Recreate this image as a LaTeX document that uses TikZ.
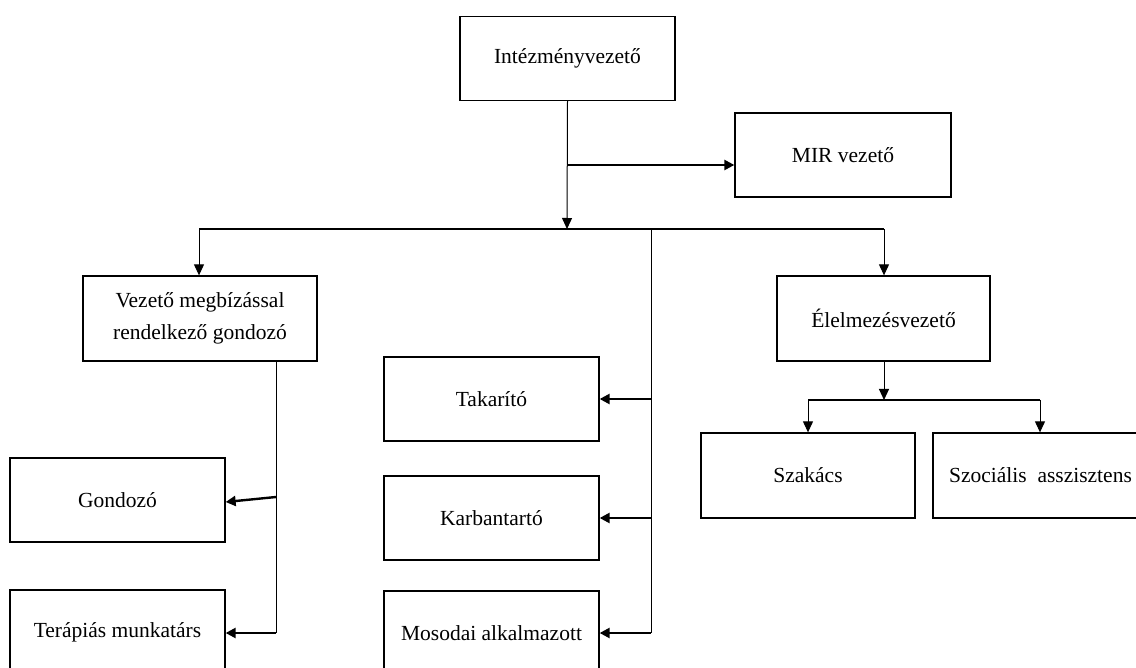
\documentclass[tikz,border=0pt]{standalone}
\usepackage{fontspec}
\setmainfont{Liberation Serif}
\usetikzlibrary{arrows.meta}
\begin{document}
\begin{tikzpicture}[x=1pt,y=-1pt,
  box/.style={draw=black,line width=1.3pt,minimum height=84pt,inner sep=0pt,align=center,
    font=\fontsize{21.5}{32}\selectfont},
  thin/.style={line width=1pt},
  thick arr/.style={line width=2.4pt,-{Triangle[length=10pt,width=10pt]}},
  thin arr/.style={line width=1pt,-{Triangle[length=11pt,width=10pt]}}]
\useasboundingbox (0,0) rectangle (1136,668);
\clip (0,0) rectangle (1136,668);
\node[box,minimum width=215pt] (top) at (567.5,58.5) {Intézményvezető};
\node[box,minimum width=216pt] (mir) at (843,155) {MIR vezető};
\node[box,minimum width=234pt,minimum height=85pt] (vez) at (200,318.5) {Vezető megbízással\\rendelkező gondozó};
\node[box,minimum width=213pt,minimum height=85pt] (elel) at (883.5,318.5) {Élelmezésvezető};
\node[box,minimum width=215pt] (tak) at (491.5,399) {Takarító};
\node[box,minimum width=215pt] (karb) at (491.5,518) {Karbantartó};
\node[box,minimum width=215pt,minimum height=85pt] (mos) at (491.5,633.5) {Mosodai alkalmazott};
\node[box,minimum width=215pt] (gond) at (117.5,500) {Gondozó};
\node[box,minimum width=215pt,minimum height=85pt] (ter) at (117.5,632.5) {Terápiás munkatárs};
\node[box,minimum width=214pt,minimum height=85pt] (szak) at (808,475.5) {Szakács};
\node[box,minimum width=215pt,minimum height=85pt] (szoc) at (1040.5,475.5) {Szociális\enspace asszisztens};
% coordinates
\coordinate (busC) at (567,229);
\coordinate (busL) at (199,229);
\coordinate (busR) at (884,229);
\coordinate (busM) at (651,229);
\coordinate (mirJ) at (567,165);
\coordinate (mTak) at (651,399);
\coordinate (mKarb) at (651,518);
\coordinate (mMos) at (651,633);
\coordinate (vGond) at (276,497);
\coordinate (vTer) at (276,633);
\coordinate (vTop) at (276,361);
\coordinate (eBus) at (884,400);
\coordinate (eL) at (808,400);
\coordinate (eR) at (1040,400);
% connectors
\draw[thin arr] (top.south) -- (busC);
\draw[thick arr] (mirJ) -- (mirJ -| mir.west);
\draw[line width=1.4pt] (busL) -- (busR);
\draw[thin arr] (busL) -- (vez.north -| busL);
\draw[thin arr] (busR) -- (elel.north -| busR);
\draw[thin] (busM) -- (mMos);
\draw[thick arr] (mTak) -- (tak.east);
\draw[thick arr] (mKarb) -- (karb.east);
\draw[thick arr] (mMos) -- (mMos -| mos.east);
\draw[thin] (vTop) -- (vTer);
\draw[thick arr] (vGond) -- ([yshift=-2pt]gond.east);
\draw[thick arr] (vTer) -- (vTer -| ter.east);
\draw[thin arr] (elel.south -| eBus) -- (eBus);
\draw[line width=1.4pt] (eL) -- (eR);
\draw[thin arr] (eL) -- (szak.north -| eL);
\draw[thin arr] (eR) -- (szoc.north -| eR);
\end{tikzpicture}
\end{document}
